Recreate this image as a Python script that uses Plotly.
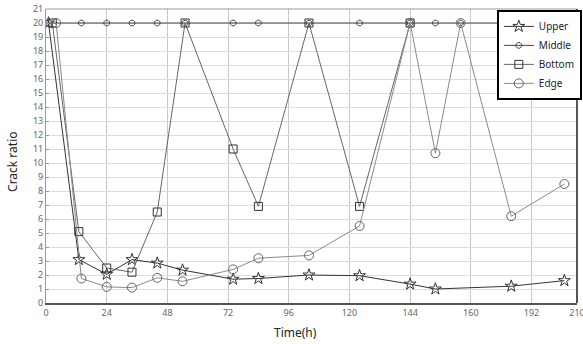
import plotly.graph_objects as go

# Data
upper_t = [1, 13, 24, 34, 44, 54, 74, 84, 104, 124, 144, 154, 184, 205]
upper_v = [20, 3.1, 2.05, 3.1, 2.85, 2.35, 1.7, 1.75, 2.0, 1.95, 1.35, 1.0, 1.2, 1.6]

middle_t = [0, 14, 24, 34, 44, 55, 74, 84, 104, 124, 144, 154, 164, 184, 205]
middle_v = [20, 20, 20, 20, 20, 20, 20, 20, 20, 20, 20, 20, 20, 20, 20]

bottom_t = [2.5, 13, 24, 34, 44, 55, 74, 84, 104, 124, 144]
bottom_v = [20, 5.1, 2.5, 2.2, 6.5, 20, 11.0, 6.9, 20, 6.9, 20]

edge_t = [4, 14, 24, 34, 44, 54, 74, 84, 104, 124, 144, 154, 164, 184, 205]
edge_v = [20, 1.75, 1.15, 1.1, 1.8, 1.55, 2.4, 3.2, 3.4, 5.5, 20, 10.7, 20, 6.2, 8.5]

x_tickvals = [0, 24, 48, 72, 96, 120, 144, 168, 192, 210]
x_ticktext = ["0", "24", "48", "72", "96", "120", "144", "160", "192", "210"]
y_tickvals = list(range(0, 22))

FONT = "Noto Sans"

fig = go.Figure()
fig.add_trace(go.Scatter(
    x=upper_t, y=upper_v, name="Upper", mode="lines+markers",
    line=dict(color="#333333", width=1),
    marker=dict(symbol="star-open", size=9, color="#333333", line=dict(width=1))))
fig.add_trace(go.Scatter(
    x=middle_t, y=middle_v, name="Middle", mode="lines+markers",
    line=dict(color="#444444", width=1),
    marker=dict(symbol="octagon-open", size=6, color="#444444", line=dict(width=1))))
fig.add_trace(go.Scatter(
    x=bottom_t, y=bottom_v, name="Bottom", mode="lines+markers",
    line=dict(color="#666666", width=1),
    marker=dict(symbol="square-open", size=8, color="#333333", line=dict(width=1))))
fig.add_trace(go.Scatter(
    x=edge_t, y=edge_v, name="Edge", mode="lines+markers",
    line=dict(color="#8a8a8a", width=1),
    marker=dict(symbol="circle-open", size=9, color="#666666", line=dict(width=1))))

fig.update_layout(
    width=583, height=344,
    margin=dict(l=46, r=6, t=9, b=41, autoexpand=False),
    paper_bgcolor="white", plot_bgcolor="white",
    font=dict(family=FONT, color="#333333"),
    showlegend=True,
    legend=dict(
        x=0.849, y=0.997, xanchor="left", yanchor="top",
        bgcolor="white", bordercolor="black", borderwidth=2,
        font=dict(size=10, color="#222222", family=FONT),
        tracegroupgap=0, itemwidth=30,
    ),
    xaxis=dict(
        range=[0, 210], tickvals=x_tickvals, ticktext=x_ticktext,
        showgrid=True, gridcolor="#c8c8c8", gridwidth=1,
        showline=True, linecolor="#555555", linewidth=2, mirror=False,
        ticks="", tickfont=dict(size=9, color="#666666"),
        ticklabeloverflow="allow",
        automargin=False, zeroline=False,
    ),
    yaxis=dict(
        range=[0, 21], tickvals=y_tickvals,
        showgrid=True, gridcolor="#dcdcdc", gridwidth=1,
        showline=True, linecolor="#999999", linewidth=1,
        ticks="inside", ticklen=3, tickcolor="#999999",
        tickfont=dict(size=9, color="#666666"),
        automargin=False, zeroline=False,
    ),
    annotations=[
        dict(text="Time(h)", xref="paper", yref="paper", x=0.469, y=-0.102,
             xanchor="center", yanchor="middle", showarrow=False,
             font=dict(size=12, color="#222222", family=FONT)),
        dict(text="Crack ratio", xref="paper", yref="paper", x=-0.062, y=0.48,
             xanchor="center", yanchor="middle", textangle=-90, showarrow=False,
             font=dict(size=12, color="#222222", family=FONT)),
    ],
)
# frame: top gray line and darker right line
fig.add_shape(type="line", xref="paper", yref="paper", x0=0, x1=1, y0=1, y1=1,
              line=dict(color="#999999", width=1))
fig.add_shape(type="line", xref="paper", yref="paper", x0=1, x1=1, y0=0, y1=1,
              line=dict(color="#555555", width=2))

fig.write_html("out.html", config={"displayModeBar": False},
               post_script="document.body.style.margin='0';document.body.style.overflow='hidden';")
